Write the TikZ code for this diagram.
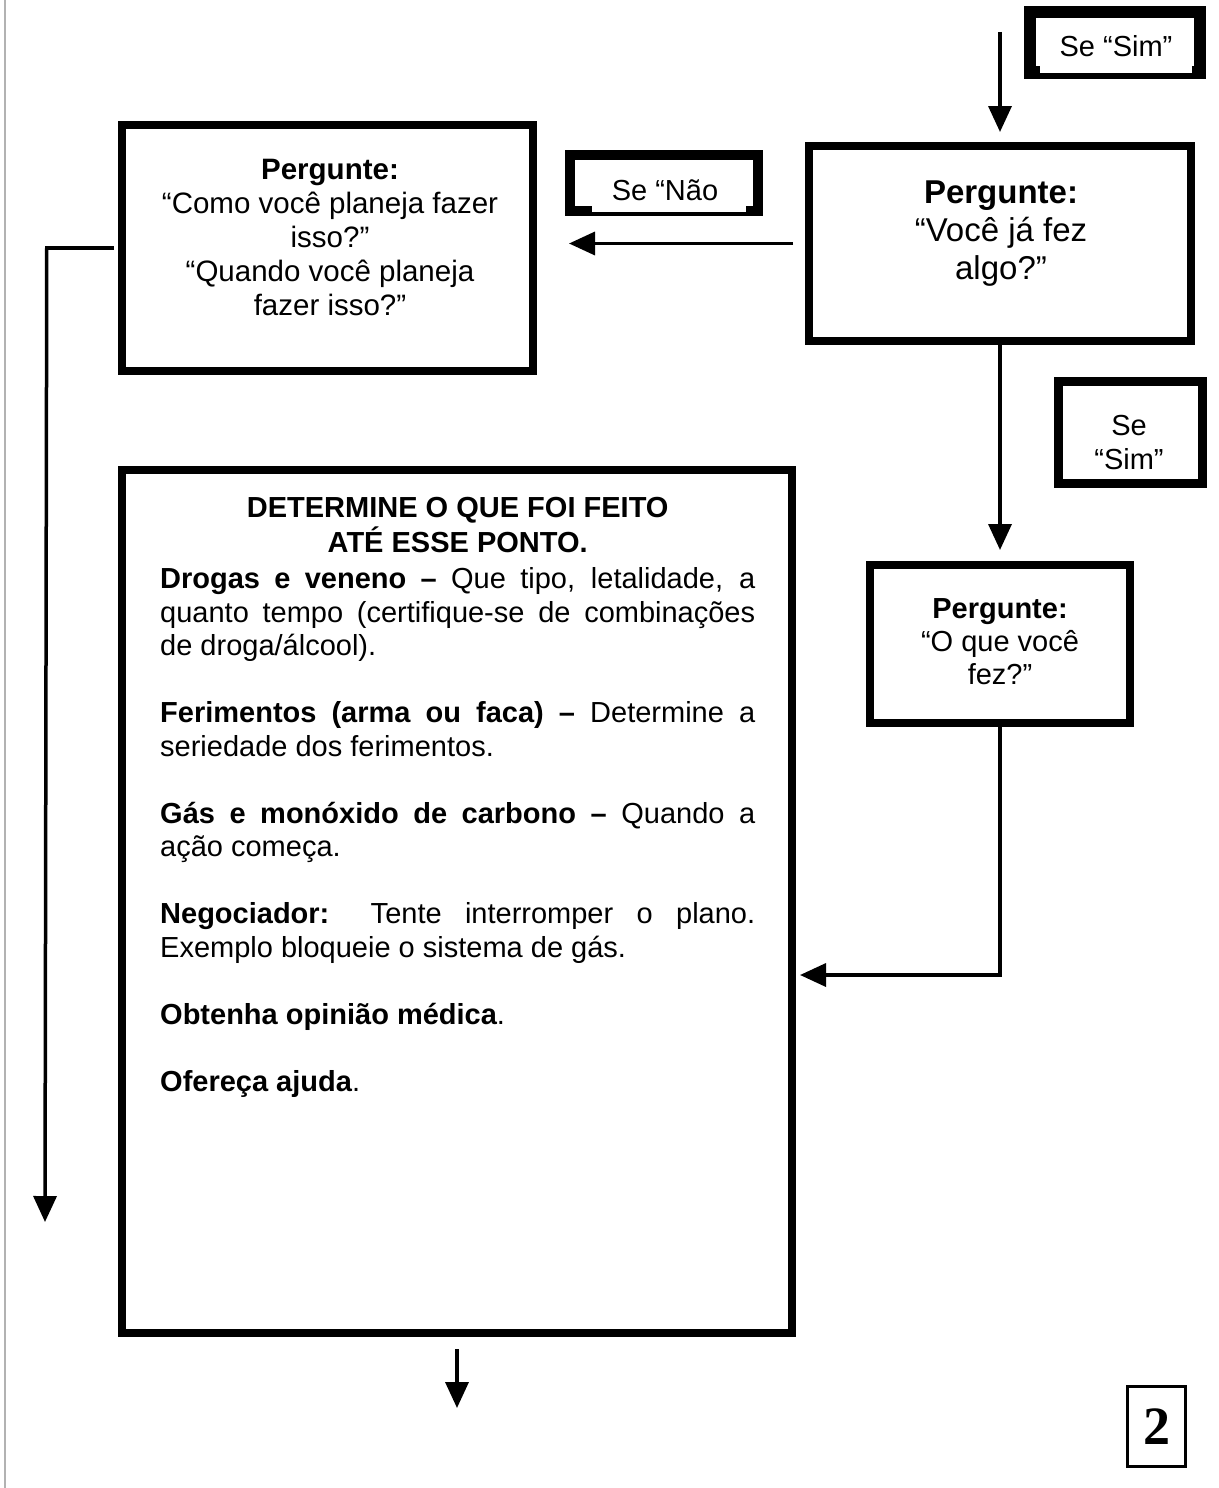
\documentclass[tikz,border=0pt]{standalone}
\usepackage{fontspec}
\setmainfont{Liberation Sans}
\newfontfamily\numfont{Liberation Serif}
\usetikzlibrary{arrows.meta,calc}
\tikzset{
  box/.style={draw, line width=8pt, inner sep=0pt, rectangle},
  sbox/.style={draw, line width=10pt, inner sep=0pt, rectangle},
  lbl/.style={inner sep=0pt, align=center},
  arr/.style={line width=3.5pt, -{Triangle[length=26pt,width=23pt]}},
  wire/.style={line width=3.5pt}
}
\begin{document}
\begin{tikzpicture}[x=1pt,y=-1pt]
\useasboundingbox (0,0) rectangle (1218,1488);
% scan edge
\draw[line width=2pt, black!30] (5,0) -- (5,1488);

% boxes
\node[sbox, line width=12pt, minimum width=170pt, minimum height=60pt] (simTop) at (1115,42.5) {};
\fill[white] (1040,18) rectangle (1192,73);
\node[lbl, font={\fontsize{29}{34}\selectfont}] (simTopT) at (1116,46) {Se “Sim”};

\node[sbox, minimum width=188pt, minimum height=56pt] (nao) at (664,183) {};
\fill[white] (592,160) rectangle (746,212);
\node[lbl, font={\fontsize{29}{34}\selectfont}] (naoT) at (665,190) {Se “Não};

\node[box, minimum width=382pt, minimum height=195pt] (q1) at (1000,243.5) {};
\node[lbl, font={\fontsize{33}{38}\selectfont}] (q1T) at (1001,234) {\textbf{Pergunte:}\\“Você já fez\\algo?”};

\node[box, minimum width=411pt, minimum height=246pt] (qL) at (327.5,248) {};
\node[lbl, font={\fontsize{29.5}{34}\selectfont}] (qLT) at (330,237) {\textbf{Pergunte:}\\“Como você planeja fazer\\isso?”\\“Quando você planeja\\fazer isso?”};

\node[sbox, line width=9pt, minimum width=144pt, minimum height=102pt] (simMid) at (1130,432) {};
\node[lbl, font={\fontsize{29}{34}\selectfont}] (simMidT) at (1129,443) {Se\\“Sim”};

\node[box, minimum width=260pt, minimum height=158pt] (q3) at (1000,644) {};
\node[lbl, font={\fontsize{29}{33}\selectfont}] (q3T) at (1000,642) {\textbf{Pergunte:}\\“O que você\\fez?”};

\node[box, minimum width=670pt, minimum height=863pt] (big) at (457,901.5) {};
\node[inner sep=0pt, anchor=north west] (bigT) at (160,497) {%
\begin{minipage}{595pt}
\fontsize{29}{33.5}\selectfont
\setlength{\parindent}{0pt}\setlength{\parskip}{0pt}
\hyphenpenalty=10000 \exhyphenpenalty=10000 \tolerance=10000
{\centering\bfseries\fontsize{29}{35}\selectfont DETERMINE O QUE FOI FEITO\\ATÉ ESSE PONTO.\par}
\vspace{3pt}
\textbf{Drogas e veneno –} Que tipo, letalidade, a\linebreak quanto tempo (certifique-se de combinações\linebreak de droga/álcool).\par
\vspace{33.5pt}
\textbf{Ferimentos (arma ou faca) –} Determine a\linebreak seriedade dos ferimentos.\par
\vspace{33.5pt}
\textbf{Gás e monóxido de carbono –} Quando a\linebreak ação começa.\par
\vspace{33.5pt}
\textbf{Negociador:} Tente interromper o plano.\linebreak Exemplo bloqueie o sistema de gás.\par
\vspace{33.5pt}
\textbf{Obtenha opinião médica}.\par
\vspace{33.5pt}
\textbf{Ofereça ajuda}.\par
\end{minipage}};

\node[draw, line width=3pt, minimum width=58pt, minimum height=80pt, inner sep=0pt, font={\numfont\bfseries\fontsize{54}{54}\selectfont}] (page) at (1156.5,1426.5) {2};

% coordinates for free ends
\coordinate (topStart) at (1000,32);
\coordinate (leftEnd) at (45,1222);
\coordinate (botEnd) at (457,1408);

% connectors
\draw[arr, shorten >=10pt] (topStart) -- (q1.north);
\draw[arr, shorten <=12pt, shorten >=32pt] (q1.west) -- (q1.west -| qL.east);
\draw[arr, shorten >=11pt] (q1.south) -- (q3.north);
\draw[wire, shorten <=4pt] (qL.west) -- (qL.west -| leftEnd);
\draw[arr] ([xshift=1.75pt]qL.west -| leftEnd) -- (leftEnd);
\draw[arr, shorten >=4pt] (q3.south) |- ($(big.east)+(0,73.5)$);
\draw[arr, shorten <=12pt] (big.south) -- (botEnd);
\end{tikzpicture}
\end{document}
